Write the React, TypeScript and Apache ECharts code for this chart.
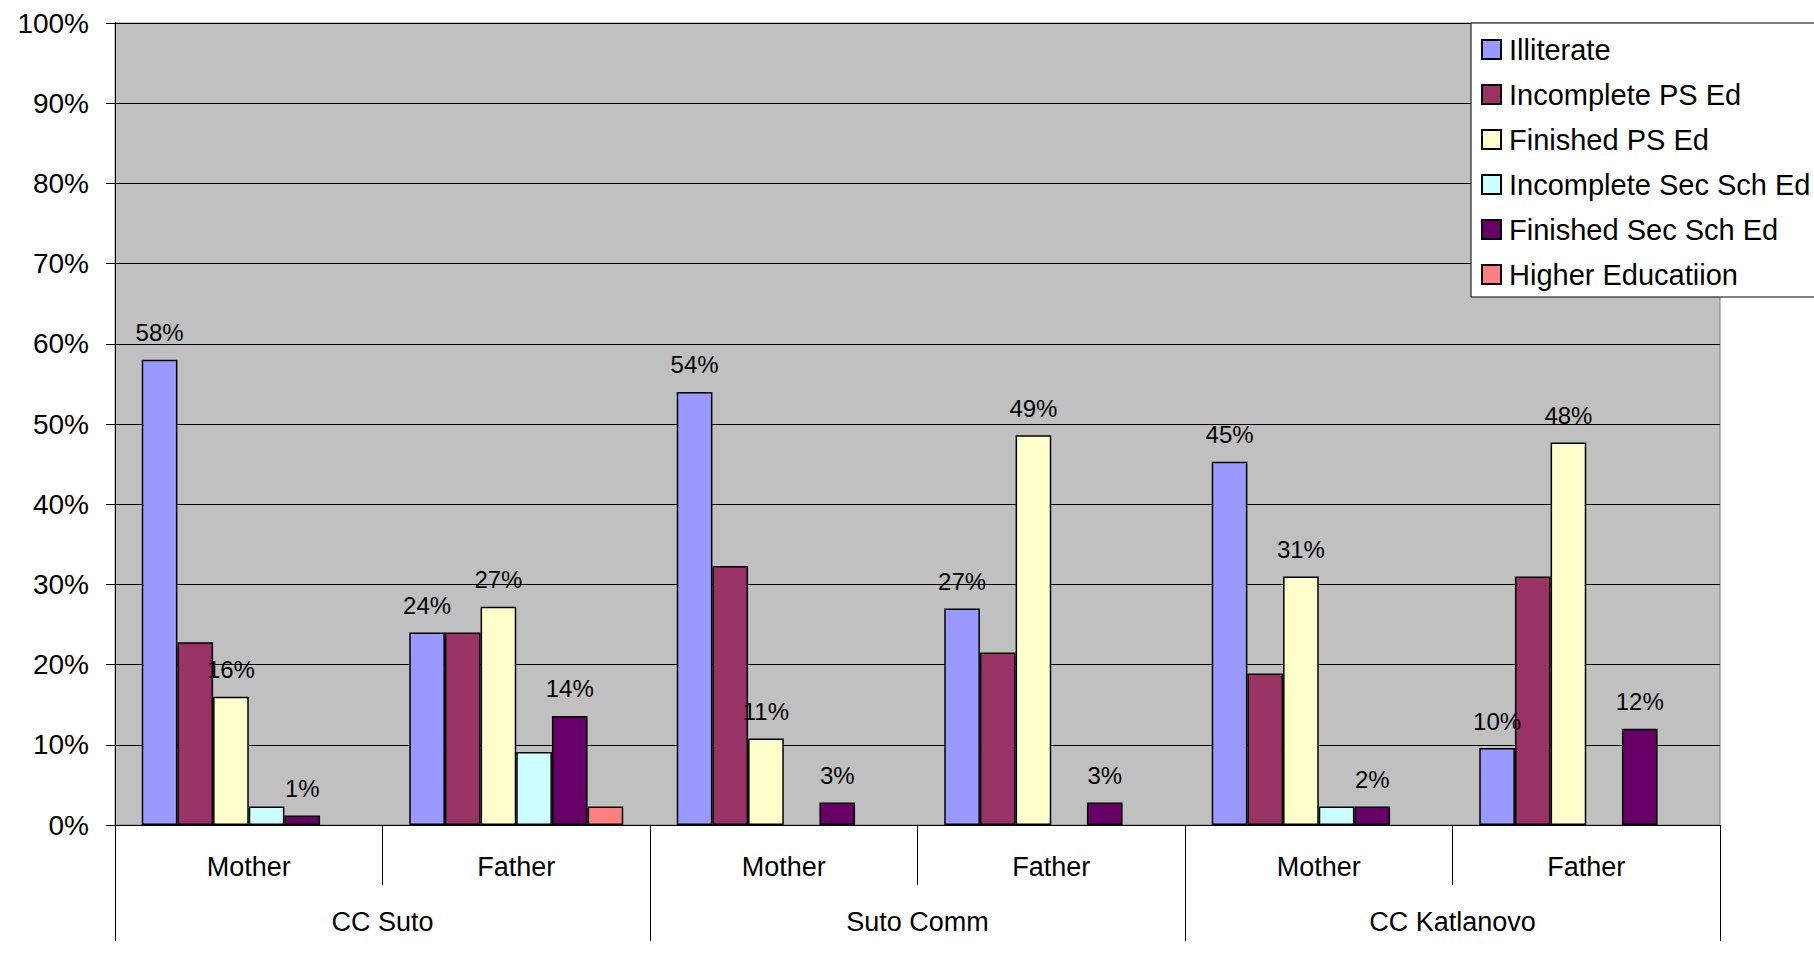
import React, { useEffect, useRef } from "react";
import * as echarts from "echarts";

const groups = ["CC Suto", "Suto Comm", "CC Katlanovo"];
const parents = ["Mother", "Father", "Mother", "Father", "Mother", "Father"];
const yTicks = [0, 10, 20, 30, 40, 50, 60, 70, 80, 90, 100];

const illiterate = [58, 24, 54, 27, 45.3, 9.6];
const incompletePS = [22.8, 24, 32.3, 21.5, 18.9, 31];
const finishedPS = [16, 27.2, 10.8, 48.6, 31, 47.7];
const incompleteSec = [2.3, 9.1, 0, 0, 2.3, 0];
const finishedSec = [1.2, 13.6, 2.8, 2.8, 2.3, 12];
const higherEd = [0, 2.3, 0, 0, 0, 0];

const seriesNames = [
  "Illiterate",
  "Incomplete PS Ed",
  "Finished PS Ed",
  "Incomplete Sec Sch Ed",
  "Finished Sec Sch Ed",
  "Higher Educatiion",
];
const seriesColors = ["#9999FF", "#993366", "#FFFFCC", "#CCFFFF", "#660066", "#FF8080"];
const seriesData = [illiterate, incompletePS, finishedPS, incompleteSec, finishedSec, higherEd];
const labelled = [true, false, true, false, true, false];

const FONT = "'Liberation Sans', Arial, Helvetica, sans-serif";

export default function App() {
  const ref = useRef<HTMLDivElement>(null);
  useEffect(() => {
    if (!ref.current) return;
    const chart = echarts.init(ref.current, undefined, { renderer: "svg" });
    chart.setOption({
      animation: false,
      backgroundColor: "#ffffff",
      textStyle: { fontFamily: FONT },
      grid: {
        left: 115,
        top: 23,
        right: 94,
        bottom: 139,
        show: true,
        backgroundColor: "#C0C0C0",
        borderColor: "#808080",
        borderWidth: 1,
      },
      legend: {
        orient: "vertical",
        left: 1471,
        top: 23,
        backgroundColor: "#ffffff",
        borderColor: "#000000",
        borderWidth: 1,
        padding: [12, 20, 8, 10],
        itemGap: 16,
        itemWidth: 19,
        itemHeight: 19,
        icon: "rect",
        textStyle: { fontSize: 29, color: "#000", fontFamily: FONT, padding: [0, 0, 0, 3] },
        data: seriesNames,
      },
      xAxis: [
        {
          type: "category",
          data: parents,
          position: "bottom",
          axisLine: { show: true, lineStyle: { color: "#000", width: 1 } },
          axisTick: { show: true, length: 60, interval: 0, lineStyle: { color: "#000", width: 1 } },
          axisLabel: { margin: 28, fontSize: 27, color: "#000", fontFamily: FONT, interval: 0 },
          splitLine: { show: false },
        },
        {
          type: "category",
          data: groups,
          position: "bottom",
          axisLine: { show: false },
          axisTick: { show: true, length: 116, interval: 0, lineStyle: { color: "#000", width: 1 } },
          axisLabel: { margin: 83, fontSize: 27, color: "#000", fontFamily: FONT, interval: 0 },
          splitLine: { show: false },
        },
      ],
      yAxis: {
        type: "value",
        min: 0,
        max: 100,
        interval: 10,
        axisLine: { show: true, lineStyle: { color: "#000", width: 1 } },
        axisTick: { show: true, length: 9, lineStyle: { color: "#000" } },
        axisLabel: {
          formatter: (v: number) => (yTicks.includes(v) ? v + "%" : ""),
          fontSize: 28,
          color: "#000",
          margin: 26,
          fontFamily: FONT,
        },
        splitLine: { show: true, lineStyle: { color: "#000", width: 1 } },
      },
      series: seriesData.map((d, i) => ({
        name: seriesNames[i],
        type: "bar",
        xAxisIndex: 0,
        data: d.map((v) => (v === 0 ? null : v)),
        barGap: "0%",
        barCategoryGap: "20%",
        itemStyle: { color: seriesColors[i], borderColor: "#000", borderWidth: 1.5 },
        label: {
          show: labelled[i],
          position: "top",
          distance: 15,
          fontSize: 24,
          color: "#000",
          fontFamily: FONT,
          formatter: (p: any) => Math.round(p.value) + "%",
        },
      })),
    });
    return () => chart.dispose();
  }, []);
  return (
    <div
      ref={ref}
      style={{ position: "fixed", left: 0, top: 0, width: 1814, height: 964 }}
    />
  );
}
